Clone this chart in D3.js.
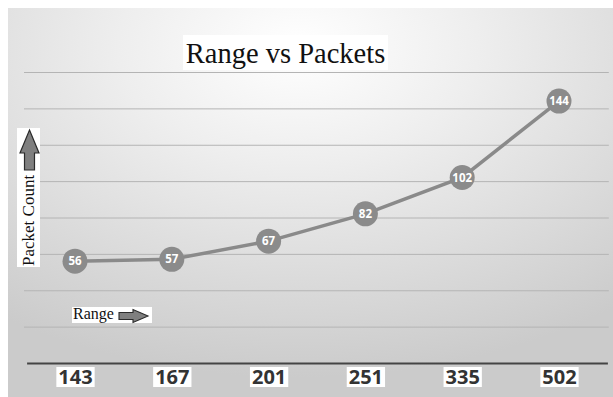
<!DOCTYPE html>
<html>
<head>
<meta charset="utf-8">
<script src="https://cdn.jsdelivr.net/npm/d3@7/dist/d3.min.js"></script>
<style>
  html, body { margin: 0; padding: 0; background: #fff; }
  svg { display: block; }
</style>
</head>
<body>
<svg id="chart" width="613" height="397"></svg>
<script>
// Range categories along the x axis and the packet count measured at each
const ranges = ["143", "167", "201", "251", "335", "502"];
const packets = [56, 57, 67, 82, 102, 144];
const yMax = 160;

const chartTitle = "Range vs Packets";
const yLabel = "Packet Count";
const xLabel = "Range";

const svg = d3.select("#chart");

// Soft radial backdrop, brightest under the title
const defs = svg.append("defs");
const grad = defs.append("radialGradient")
  .attr("id", "bg")
  .attr("cx", "48%").attr("cy", "10%")
  .attr("r", "85%")
  .attr("gradientUnits", "objectBoundingBox");
grad.append("stop").attr("offset", "0%").attr("stop-color", "#ffffff");
grad.append("stop").attr("offset", "35%").attr("stop-color", "#eeeeee");
grad.append("stop").attr("offset", "100%").attr("stop-color", "#cbcbcb");

svg.append("rect")
  .attr("x", 8).attr("y", 8)
  .attr("width", 605).attr("height", 389)
  .attr("fill", "url(#bg)");

const plot = { left: 26.6, right: 607.4, top: 72, bottom: 363 };

const x = d3.scalePoint()
  .domain(ranges)
  .range([plot.left, plot.right])
  .padding(0.5);

const y = d3.scaleLinear()
  .domain([0, yMax])
  .range([plot.bottom, plot.top]);

// Horizontal gridlines
const grid = svg.append("g")
  .attr("transform", `translate(${plot.left - 2.6},0)`)
  .call(d3.axisLeft(y).ticks(8).tickSize(-(plot.right - plot.left + 4)).tickFormat(""));
grid.select(".domain").remove();
grid.selectAll(".tick line")
  .attr("stroke", "#b4b4b4")
  .attr("stroke-width", 1);
grid.selectAll(".tick").filter(d => d === 0).remove();

// X axis with boxed tick labels
const xAxis = svg.append("g")
  .attr("transform", `translate(0,${plot.bottom})`)
  .call(d3.axisBottom(x).tickSize(0).tickSizeOuter(0));
xAxis.select(".domain")
  .attr("stroke", "#444")
  .attr("stroke-width", 2.2);
xAxis.selectAll(".tick text")
  .attr("y", 21)
  .attr("dy", 0)
  .attr("font-family", "'Open Sans', sans-serif")
  .attr("font-weight", 700)
  .attr("font-size", 20)
  .attr("fill", "#333");
xAxis.selectAll(".tick").each(function () {
  const t = d3.select(this).select("text");
  const b = t.node().getBBox();
  d3.select(this).insert("rect", "text")
    .attr("x", b.x - 2).attr("y", 4)
    .attr("width", b.width + 4).attr("height", 20)
    .attr("fill", "#fff");
});

// Line and labelled markers
const line = d3.line()
  .x((d, i) => x(ranges[i]))
  .y(d => y(d));

svg.append("path")
  .datum(packets)
  .attr("d", line)
  .attr("fill", "none")
  .attr("stroke", "#8a8a8a")
  .attr("stroke-width", 3.5);

const marks = svg.append("g")
  .selectAll("g")
  .data(packets)
  .join("g")
  .attr("transform", (d, i) => `translate(${x(ranges[i])},${y(d)})`);

marks.append("circle")
  .attr("r", 12.5)
  .attr("fill", "#8b8b8b");

marks.append("text")
  .attr("text-anchor", "middle")
  .attr("dy", "0.36em")
  .attr("font-family", "'Open Sans', sans-serif")
  .attr("font-weight", 700)
  .attr("font-size", 11.5)
  .attr("fill", "#fff")
  .text(d => d);

// Title on a white panel
svg.append("rect")
  .attr("x", 183).attr("y", 35)
  .attr("width", 205).attr("height", 35)
  .attr("fill", "#fff");
svg.append("text")
  .attr("x", 285.5).attr("y", 63)
  .attr("text-anchor", "middle")
  .attr("font-family", "'Liberation Serif', 'Times New Roman', serif")
  .attr("font-size", 28.5)
  .attr("fill", "#111")
  .text(chartTitle);

// Y label with an upward arrow
svg.append("rect")
  .attr("x", 17).attr("y", 128)
  .attr("width", 23).attr("height", 139)
  .attr("fill", "#fff");
svg.append("path")
  .attr("d", "M29.5,130 L39,153 L34.5,153 L34.5,170 L24.5,170 L24.5,153 L20,153 Z")
  .attr("fill", "#7f7f7f")
  .attr("stroke", "#2b2b2b")
  .attr("stroke-width", 1.2)
  .attr("stroke-linejoin", "miter");
svg.append("text")
  .attr("transform", "translate(34,266) rotate(-90)")
  .attr("font-family", "'Liberation Serif', 'Times New Roman', serif")
  .attr("font-size", 17)
  .attr("fill", "#111")
  .text(yLabel);

// X label with a rightward arrow
svg.append("rect")
  .attr("x", 72).attr("y", 307)
  .attr("width", 80).attr("height", 16)
  .attr("fill", "#fff");
svg.append("text")
  .attr("x", 73).attr("y", 319)
  .attr("font-family", "'Liberation Serif', 'Times New Roman', serif")
  .attr("font-size", 16)
  .attr("fill", "#111")
  .text(xLabel);
svg.append("path")
  .attr("d", "M119,312.5 L133,312.5 L133,309.5 L148,316 L133,322.5 L133,319.5 L119,319.5 Z")
  .attr("fill", "#7f7f7f")
  .attr("stroke", "#2b2b2b")
  .attr("stroke-width", 1.1);
</script>
</body>
</html>
